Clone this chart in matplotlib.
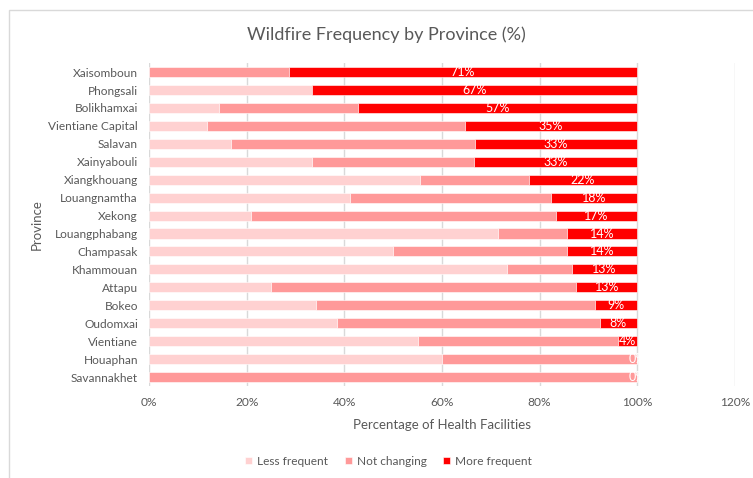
import matplotlib.pyplot as plt
from matplotlib.patches import Rectangle

# -------------------------
# Data (percent of health facilities)
# -------------------------
provinces = ["Xaisomboun", "Phongsali", "Bolikhamxai", "Vientiane Capital",
             "Salavan", "Xainyabouli", "Xiangkhouang", "Louangnamtha",
             "Xekong", "Louangphabang", "Champasak", "Khammouan", "Attapu",
             "Bokeo", "Oudomxai", "Vientiane", "Houaphan", "Savannakhet"]

less_frequent = [0, 33.3, 14.3, 11.8, 16.7, 33.3, 55.6, 41.2,
                 20.8, 71.4, 50.0, 73.3, 25.0, 34.3, 38.5, 55.0, 60.0, 0]
not_changing = [28.6, 0, 28.6, 52.9, 50.0, 33.3, 22.2, 41.2,
                62.5, 14.3, 35.7, 13.3, 62.5, 57.1, 53.8, 41.0, 40.0, 100]
more_frequent = [71.4, 66.7, 57.1, 35.3, 33.3, 33.3, 22.2, 17.6,
                 16.7, 14.3, 14.3, 13.3, 12.5, 8.6, 7.7, 4.0, 0, 0]

series_names = ["Less frequent", "Not changing", "More frequent"]
colors = ["#FFD1D1", "#FF9999", "#FF0000"]

plt.rcParams['font.family'] = ['Lato', 'DejaVu Sans']
grey = "#595959"

fig = plt.figure(figsize=(7.53, 4.78), dpi=100)
ax = fig.add_axes([0.1979, 0.1925, 0.778, 0.6755])

# outer chart border
fig.patches.append(Rectangle((9 / 753, -0.05), 1.0, 1 - 10 / 478 + 0.05,
                             transform=fig.transFigure, fill=False,
                             edgecolor="#D9D9D9", linewidth=1))

y = list(range(len(provinces)))
left = [0] * len(provinces)
bars = []
for vals, name, c in zip([less_frequent, not_changing, more_frequent],
                         series_names, colors):
    b = ax.barh(y, vals, left=left, height=0.56, color=c, label=name,
                edgecolor="white", linewidth=0.4, zorder=3)
    bars.append(b)
    left = [l + v for l, v in zip(left, vals)]

# data labels on the "More frequent" series
for rect, v in zip(bars[2], more_frequent):
    cx = rect.get_x() + rect.get_width() / 2
    ax.text(cx, rect.get_y() + rect.get_height() / 2, f"{int(v + 0.5)}%",
            ha="center", va="center", color="white", fontsize=9,
            zorder=4)

ax.set_xlim(0, 120)
ax.set_ylim(len(provinces) - 0.5, -0.5)
ax.set_yticks(y)
ax.set_yticklabels(provinces)
ax.set_xticks([0, 20, 40, 60, 80, 100, 120])
ax.set_xticklabels([f"{t}%" for t in [0, 20, 40, 60, 80, 100, 120]])
ax.tick_params(length=0, labelsize=8.6, colors=grey, pad=8)
ax.xaxis.grid(True, color="#D9D9D9", linewidth=1, zorder=0)
for s in ax.spines.values():
    s.set_visible(False)

ax.set_xlabel("Percentage of Health Facilities", fontsize=9.5, color=grey,
              labelpad=8)
ax.set_ylabel("Province", fontsize=9.5, color=grey, labelpad=4)
fig.text(0.513, 0.928, "Wildfire Frequency by Province (%)", ha="center",
         va="center", fontsize=13, color=grey)

leg = fig.legend(handles=bars, labels=series_names, loc="center",
                 bbox_to_anchor=(0.516, 0.035), ncol=3, frameon=False,
                 fontsize=8.6, handlelength=0.6, handleheight=0.6,
                 handletextpad=0.4, columnspacing=1.4)
for t in leg.get_texts():
    t.set_color(grey)

plt.savefig("out.png", dpi=100)
